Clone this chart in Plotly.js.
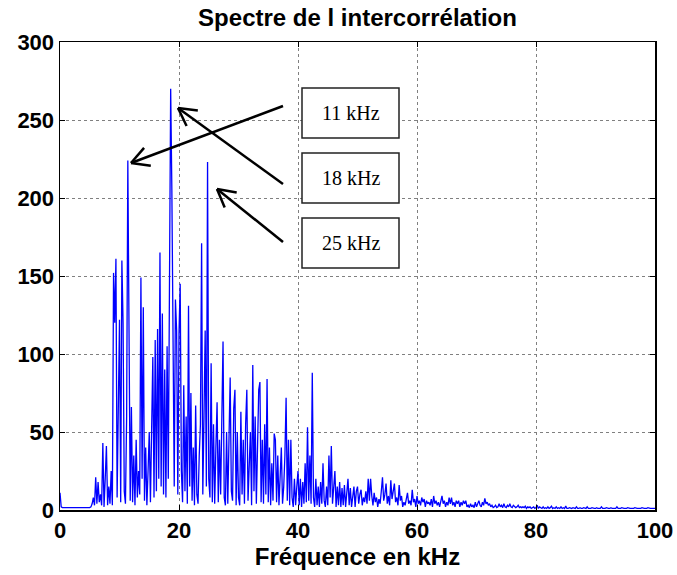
<!DOCTYPE html>
<html><head><meta charset="utf-8">
<script src="https://cdn.plot.ly/plotly-3.0.1.min.js"></script>
<style>html,body{margin:0;padding:0;background:#fff}</style>
</head><body><div id="chart" style="width:677px;height:575px"></div>
<script>
// Frequency grid of the spectrum (kHz)
const freqStart = 0;
const freqStep = 0.2;
// Amplitude of the cross-correlation spectrum, one value every 0.2 kHz from 0 to 100 kHz
const amplitude = [
  11, 2, 1.5, 1.5, 1.5, 1.5, 1.5, 1.5, 1.5, 1.5,
  1.5, 1.5, 1.5, 1.5, 1.5, 1.5, 1.5, 1.5, 1.5, 1.5,
  1.5, 1.5, 1.5, 1.5, 1.5, 1.5, 2, 4, 8, 3,
  21, 4, 18, 5, 10, 3, 43, 2, 20, 41,
  3, 15, 4, 25, 3, 152, 120, 161, 8, 60,
  122, 5, 160, 120, 12, 4, 60, 224, 135, 6,
  66, 5, 35, 3, 45, 8, 25, 10, 149, 20,
  130, 6, 40, 3, 25, 50, 5, 70, 98, 8,
  109, 12, 116, 20, 165, 15, 126, 10, 90, 8,
  105, 20, 132, 270, 205, 130, 15, 135, 115, 10,
  113, 145, 25, 5, 80, 12, 60, 4, 131, 15,
  75, 6, 40, 3, 67, 10, 4, 35, 55, 171,
  10, 60, 115, 15, 223, 20, 8, 94, 5, 55,
  4, 40, 69, 5, 45, 10, 60, 108, 8, 3,
  50, 4, 45, 85, 12, 6, 65, 77, 3, 50,
  8, 3, 63, 10, 45, 4, 55, 77, 6, 25,
  50, 3, 93, 12, 60, 4, 35, 77, 82, 5,
  45, 4, 55, 10, 84, 5, 40, 3, 30, 6,
  49, 45, 5, 35, 3, 28, 40, 4, 15, 35,
  72, 6, 45, 3, 45, 8, 2, 20, 3, 15,
  25, 3, 20, 2, 18, 4, 30, 5, 53, 6,
  35, 4, 88, 8, 2, 20, 3, 15, 2, 18,
  4, 30, 6, 2, 15, 3, 35, 8, 41, 4,
  12, 25, 2, 15, 3, 18, 2, 14, 3, 16,
  2, 12, 20, 3, 14, 2, 10, 15, 2, 12,
  15, 4, 10, 13, 3, 8, 5, 12, 4, 20,
  6, 20, 9, 3, 11, 5, 8, 2, 7, 4,
  12, 21, 6, 10, 17, 4, 9, 3, 19, 7,
  12, 17, 5, 8, 3, 16, 6, 9, 2, 5,
  3, 7, 11, 4, 6, 3, 13, 5, 7, 2,
  9, 4, 6, 3, 8, 5, 7, 2, 6, 4,
  5, 3, 7, 2, 9, 4, 6, 3, 5, 2,
  7, 9, 4, 6, 2, 5, 3, 8, 4, 8,
  3, 5, 2, 6, 4, 6, 2, 5, 3, 6,
  4, 6, 2, 3, 1.5, 4, 2, 3, 1.5, 5,
  2, 4, 6, 3, 2, 5, 3, 7.5, 4, 5,
  3, 4, 2, 3, 1.5, 2, 3, 1.5, 2, 4,
  2, 3, 1.5, 4, 2, 1.5, 3, 2, 4, 2,
  1.5, 3, 2, 1.5, 2, 3, 1.5, 2, 1.5, 2,
  1.5, 2.5, 1, 2, 1.5, 2, 1, 1.5, 2, 1,
  1.5, 3, 1, 2, 1.5, 1, 2, 1, 1.5, 1,
  2, 1, 1.5, 2.5, 1, 1.5, 1, 2, 1, 1.5,
  1, 2, 1, 1.5, 1, 2.5, 1, 1, 1.5, 1,
  1, 1.5, 1, 1, 2, 1, 1, 1.5, 1, 1,
  1.5, 1, 1, 2, 1, 1, 1, 1.5, 1, 1,
  1, 1.5, 1, 1, 1, 2, 1, 1, 1, 1.5,
  1, 1, 1, 1.5, 1, 1, 1, 1, 2, 1,
  1, 1, 1.5, 1, 1, 1, 1, 1.5, 1, 1,
  1, 1, 1, 1.5, 1, 1, 1, 1, 1, 1.5,
  1, 1, 1, 1, 1.5, 1, 1, 1, 1, 1,
  1
];
const xTickValues = [0, 20, 40, 60, 80, 100];
const yTickValues = [0, 50, 100, 150, 200, 250, 300];
const peakLabels = ['11 kHz', '18 kHz', '25 kHz'];

const freq = amplitude.map((_, i) => +(freqStart + i * freqStep).toFixed(2));

// plot area in pixels
const L = 60, R = 655, T = 42, B = 510;
const px2x = p => (p - L) / (R - L);
const py2y = p => (B - p) / (B - T);

// arrow geometry (pixel positions of decorations)
const arrows = [
  {tip: [131, 163], tail: [283, 106]},
  {tip: [178, 108], tail: [283, 184]},
  {tip: [217, 189], tail: [283, 242]}
];
const boxes = [[302, 88, 399, 138], [302, 153, 399, 203], [302, 218, 399, 268]];

const shapes = [];
const lineStyle = {color: '#000', width: 2.5};
arrows.forEach(a => {
  const [tx, ty] = a.tip, [sx, sy] = a.tail;
  shapes.push({type: 'line', xref: 'paper', yref: 'paper',
    x0: px2x(sx), y0: py2y(sy), x1: px2x(tx), y1: py2y(ty), line: lineStyle});
  const ang = Math.atan2(sy - ty, sx - tx);
  [-0.5, 0.5].forEach(d => {
    const ex = tx + 20 * Math.cos(ang + d), ey = ty + 20 * Math.sin(ang + d);
    shapes.push({type: 'line', xref: 'paper', yref: 'paper',
      x0: px2x(tx), y0: py2y(ty), x1: px2x(ex), y1: py2y(ey), line: lineStyle});
  });
});
const annotations = [];
boxes.forEach((b, i) => {
  shapes.push({type: 'rect', xref: 'paper', yref: 'paper',
    x0: px2x(b[0]), y0: py2y(b[3]), x1: px2x(b[2]), y1: py2y(b[1]),
    line: {color: '#222', width: 1.5}, fillcolor: '#fff', layer: 'above'});
  annotations.push({xref: 'paper', yref: 'paper', x: px2x((b[0] + b[2]) / 2), y: py2y((b[1] + b[3]) / 2),
    text: peakLabels[i], showarrow: false, xanchor: 'center', yanchor: 'middle',
    font: {family: 'Liberation Serif, Times New Roman, serif', size: 20, color: '#000'}});
});

const tickFont = {family: 'Liberation Sans, Arial, sans-serif', size: 22, color: '#000', weight: 'bold'};

const trace = {
  x: freq, y: amplitude, type: 'scatter', mode: 'lines',
  line: {color: '#0000ff', width: 1.3}, hoverinfo: 'skip'
};

const layout = {
  width: 677, height: 575,
  margin: {l: L, r: 677 - R, t: T, b: 575 - B},
  paper_bgcolor: '#fff', plot_bgcolor: '#fff',
  showlegend: false,
  title: {text: 'Spectre de l intercorrélation', x: 0.5, xref: 'paper', xanchor: 'center',
    y: 1 - 18 / 575, yref: 'container', yanchor: 'middle',
    font: {family: 'Liberation Sans, Arial, sans-serif', size: 24, color: '#000', weight: 'bold'}},
  xaxis: {range: [0, 100], tickvals: xTickValues, ticktext: xTickValues.map(String),
    showgrid: true, gridcolor: '#808080', griddash: 'dot', gridwidth: 1,
    zeroline: false, showline: true, linecolor: '#000', linewidth: 1.5, mirror: 'ticks',
    ticks: 'inside', ticklen: 5, tickcolor: '#000', tickfont: tickFont,
    title: {text: 'Fréquence en kHz', standoff: 6,
      font: {family: 'Liberation Sans, Arial, sans-serif', size: 24, color: '#000', weight: 'bold'}}},
  yaxis: {range: [0, 300], tickvals: yTickValues, ticktext: yTickValues.map(String),
    showgrid: true, gridcolor: '#808080', griddash: 'dot', gridwidth: 1,
    zeroline: false, showline: true, linecolor: '#000', linewidth: 1.5, mirror: 'ticks',
    ticks: 'inside', ticklen: 5, tickcolor: '#000', tickfont: tickFont},
  shapes: shapes,
  annotations: annotations
};

Plotly.newPlot('chart', [trace], layout, {displayModeBar: false, staticPlot: true});
</script>
</body></html>
